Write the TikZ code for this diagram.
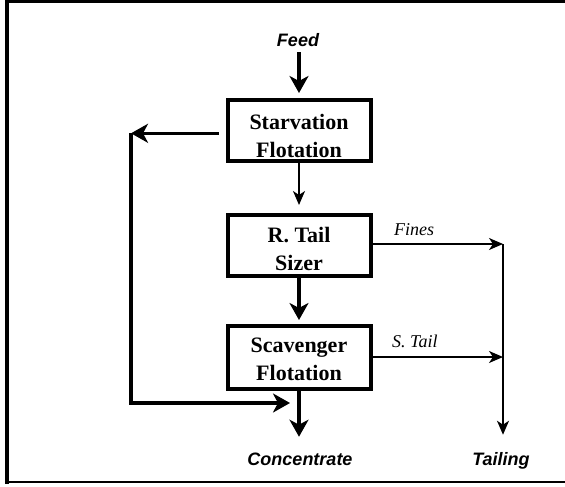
\documentclass[tikz,border=0pt]{standalone}
\usepackage{fontspec}
\setmainfont{Liberation Serif}
\newfontfamily\labelsans{Liberation Sans}
\usetikzlibrary{arrows.meta}
\begin{document}
\begin{tikzpicture}[x=1pt,y=-1pt,
  unitbox/.style={draw,line width=4pt,minimum width=143pt,inner sep=0pt},
  unittext/.style={align=center,inner sep=0pt,font=\bfseries\fontsize{22}{28}\selectfont},
  streamlabel/.style={inner sep=0pt,font=\labelsans\bfseries\itshape\fontsize{18}{20}\selectfont},
  flowlabel/.style={inner sep=0pt,anchor=base west,font=\itshape\fontsize{18}{20}\selectfont},
  heavyflow/.style={line width=3.4pt,-{Stealth[length=17pt,width=19pt,inset=5pt]}},
  lightflow/.style={line width=1.6pt,-{Stealth[length=14pt,width=12pt,inset=4pt]}}]
  \useasboundingbox (0,0) rectangle (565,487);

  % frame
  \draw[line width=4pt] (7,0) -- (7,484);
  \draw[line width=2.7pt] (5,1.35) -- (565,1.35);
  \draw[line width=2pt] (5,482) -- (565,482);

  % process units
  \node[unitbox,minimum height=61pt] (starv) at (299,130.5) {};
  \node[unittext] (starvT) at (299,135.5) {Starvation\\Flotation};
  \node[unitbox,minimum height=60.5pt] (rtail) at (299,245.25) {};
  \node[unittext] (rtailT) at (299,249) {R. Tail\\Sizer};
  \node[unitbox,minimum height=63pt] (scav) at (299,357.5) {};
  \node[unittext] (scavT) at (299,359) {Scavenger\\Flotation};

  % stream names
  \node[streamlabel,anchor=base] (feed) at (298,47) {Feed};
  \node[streamlabel,anchor=base] (conc) at (300,465) {Concentrate};
  \node[streamlabel,anchor=base] (tailing) at (501,465) {Tailing};
  \node[flowlabel] (fines) at (394,235) {Fines};
  \node[flowlabel] (stail) at (392,347) {S. Tail};

  % junction points
  \coordinate (fbcorner) at (131,133.3);
  \coordinate (fbbottom) at (131,403);
  \coordinate (cjoin) at (290,403);
  \coordinate (tjoin) at (503,244);
  \coordinate (sjoin) at (503,357);

  % main line
  \draw[heavyflow,shorten <=5pt,shorten >=5pt] (starv.north |- feed.south) -- (starv.north);
  \draw[lightflow,shorten >=8pt] (starv.south) -- (rtail.north);
  \draw[heavyflow,shorten >=4pt] (rtail.south) -- (scav.north);
  \draw[heavyflow,shorten >=15.5pt] (scav.south) -- (scav.south |- conc.north);

  % recycle of starvation concentrate
  \draw[heavyflow] ([xshift=-7pt]starv.west |- fbcorner) -- (fbcorner);
  \draw[heavyflow] (fbcorner) -- (fbbottom) -- (cjoin);

  % tailings
  \draw[lightflow] (rtail.east |- tjoin) -- (tjoin);
  \draw[lightflow] (scav.east |- sjoin) -- (sjoin);
  \draw[lightflow,shorten >=17pt] (tjoin) -- (tjoin |- tailing.north);
\end{tikzpicture}
\end{document}
